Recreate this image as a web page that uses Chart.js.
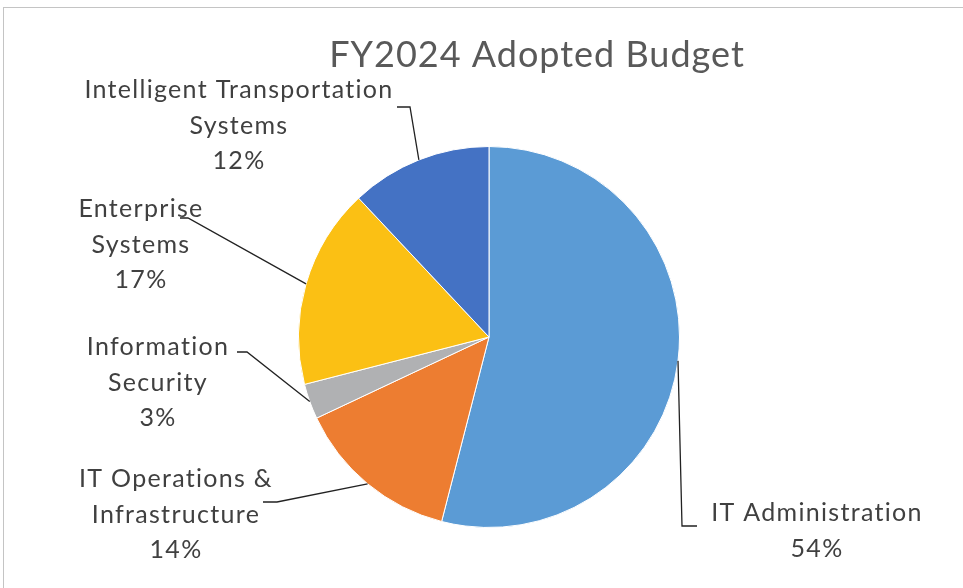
<!DOCTYPE html>
<html>
<head>
<meta charset="utf-8">
<script src="https://cdn.jsdelivr.net/npm/chart.js@4.4.1/dist/chart.umd.min.js"></script>
<style>
  html, body { margin: 0; padding: 0; background: #fff; overflow: hidden; }
  #wrap { position: relative; width: 963px; height: 588px; }
  #frame { position: absolute; left: 3px; top: 7px; width: 1000px; height: 700px;
           border: 1px solid #c4c4c4; box-sizing: border-box; }
  canvas { position: absolute; left: 0; top: 0; }
</style>
</head>
<body>
<div id="wrap">
  <div id="frame"></div>
  <canvas id="budget-chart" width="963" height="588"></canvas>
</div>
<script>
// chart data
const categories = [
  "IT Administration",
  "IT Operations & Infrastructure",
  "Information Security",
  "Enterprise Systems",
  "Intelligent Transportation Systems"
];
const shares = [54, 14, 3, 17, 12];
const colors = ["#5B9BD5", "#ED7D31", "#B0B1B3", "#FBC014", "#4472C4"];
const title = "FY2024 Adopted Budget";

const FONT = "Lato, 'Open Sans', sans-serif";

// where each label sits (text centre, first line y, wrap width, elbow of leader line)
const labelLayout = [
  { x: 817, y: 513, wrap: 260, elbow: [[682, 526], [697, 526]] },
  { x: 176, y: 479, wrap: 220, elbow: [[277, 502], [263, 502]] },
  { x: 158, y: 347, wrap: 175, elbow: [[247, 352], [237, 352]] },
  { x: 141, y: 209, wrap: 150, elbow: [[188, 218], [180, 218]] },
  { x: 239, y: 90,  wrap: 360, elbow: [[410, 107], [397, 107]] }
];

// simple word wrap, like the office chart does
function wrapText(ctx, text, maxW) {
  const words = text.split(" ");
  const lines = [];
  let cur = "";
  words.forEach(w => {
    const test = cur ? cur + " " + w : w;
    if (ctx.measureText(test).width > maxW && cur) {
      lines.push(cur);
      cur = w;
    } else {
      cur = test;
    }
  });
  if (cur) lines.push(cur);
  return lines;
}

// draws title, leader lines and data labels
const labelPlugin = {
  id: "pieLabels",
  afterDraw(chart) {
    const ctx = chart.ctx;
    ctx.save();

    // title
    ctx.fillStyle = "#595959";
    ctx.font = "36px " + FONT;
    ctx.letterSpacing = "1px";
    ctx.textAlign = "center";
    ctx.textBaseline = "middle";
    ctx.fillText(title, 537, 55);

    const arcs = chart.getDatasetMeta(0).data;
    ctx.font = "25px " + FONT;
    ctx.letterSpacing = "1.3px";
    arcs.forEach((arc, i) => {
      const lay = labelLayout[i];
      const mid = (arc.startAngle + arc.endAngle) / 2;
      const px = arc.x + Math.cos(mid) * arc.outerRadius;
      const py = arc.y + Math.sin(mid) * arc.outerRadius;

      // leader line
      ctx.strokeStyle = "#222222";
      ctx.lineWidth = 1.3;
      ctx.beginPath();
      ctx.moveTo(px, py);
      lay.elbow.forEach(p => ctx.lineTo(p[0], p[1]));
      ctx.stroke();

      // text
      const lines = wrapText(ctx, categories[i], lay.wrap);
      lines.push(shares[i] + "%");
      ctx.fillStyle = "#404040";
      lines.forEach((ln, k) => ctx.fillText(ln, lay.x, lay.y + k * 35.5));
    });
    ctx.restore();
  }
};

new Chart(document.getElementById("budget-chart"), {
  type: "pie",
  data: {
    labels: categories,
    datasets: [{
      data: shares,
      backgroundColor: colors,
      borderColor: "#ffffff",
      borderWidth: 1
    }]
  },
  options: {
    responsive: false,
    animation: false,
    layout: { padding: { left: 298, right: 283, top: 146, bottom: 60 } },
    plugins: {
      legend: { display: false },
      tooltip: { enabled: false }
    }
  },
  plugins: [labelPlugin]
});
</script>
</body>
</html>
